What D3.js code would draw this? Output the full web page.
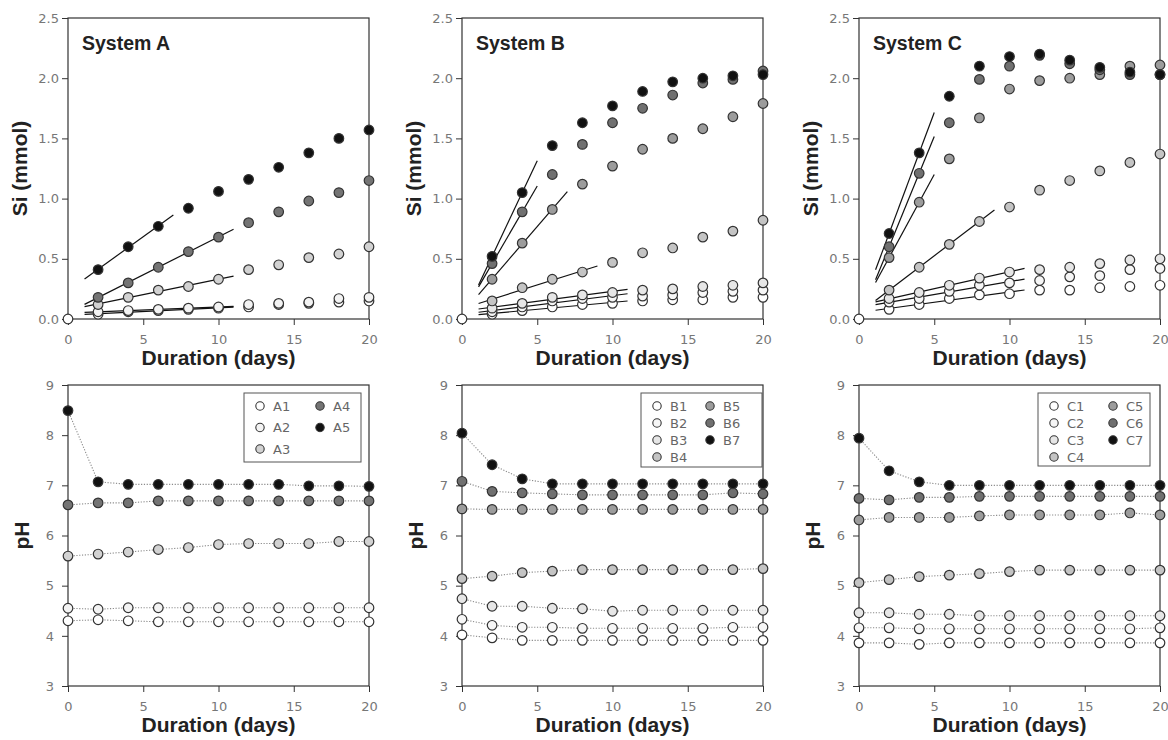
<!DOCTYPE html>
<html>
<head>
<meta charset="utf-8">
<script src="https://cdn.jsdelivr.net/npm/d3@7/dist/d3.min.js"></script>
<style>
  body { margin: 0; background: #fff; }
  svg { font-family: "Liberation Sans", Arial, sans-serif; }
  .axis path, .axis line { stroke: #333; }
  .axis text { fill: #777; font-family: "DejaVu Sans", sans-serif; font-size: 13px; }
  .title { font-weight: bold; font-size: 21px; fill: #222; }
  .legend text { fill: #666; font-family: "DejaVu Sans", sans-serif; font-size: 13px; }
</style>
</head>
<body>
<svg id="chart" width="1168" height="740"></svg>
<script>
// sampling days
const siDays = [2, 4, 6, 8, 10, 12, 14, 16, 18, 20];
const phDays = [0, 2, 4, 6, 8, 10, 12, 14, 16, 18, 20];
const origin = [0, 0];

// Si (mmol), System A
const siA1 = [0.04, 0.06, 0.07, 0.08, 0.09, 0.10, 0.12, 0.13, 0.14, 0.15];
const siA2 = [0.06, 0.07, 0.08, 0.09, 0.10, 0.12, 0.13, 0.14, 0.17, 0.18];
const siA3 = [0.12, 0.18, 0.24, 0.27, 0.33, 0.41, 0.45, 0.51, 0.54, 0.60];
const siA4 = [0.18, 0.30, 0.43, 0.56, 0.68, 0.80, 0.89, 0.98, 1.05, 1.15];
const siA5 = [0.41, 0.60, 0.77, 0.92, 1.06, 1.16, 1.26, 1.38, 1.50, 1.57];
// Si (mmol), System B
const siB1 = [0.04, 0.07, 0.10, 0.12, 0.13, 0.15, 0.16, 0.16, 0.18, 0.18];
const siB2 = [0.06, 0.10, 0.15, 0.17, 0.18, 0.19, 0.20, 0.22, 0.23, 0.24];
const siB3 = [0.09, 0.13, 0.18, 0.20, 0.22, 0.24, 0.25, 0.27, 0.28, 0.30];
const siB4 = [0.15, 0.26, 0.33, 0.39, 0.47, 0.55, 0.59, 0.68, 0.73, 0.82];
const siB5 = [0.33, 0.63, 0.91, 1.12, 1.27, 1.41, 1.50, 1.58, 1.68, 1.79];
const siB6 = [0.46, 0.89, 1.20, 1.45, 1.63, 1.75, 1.86, 1.96, 1.99, 2.06];
const siB7 = [0.52, 1.05, 1.44, 1.63, 1.77, 1.89, 1.97, 2.00, 2.02, 2.03];
// Si (mmol), System C
const siC1 = [0.08, 0.12, 0.17, 0.20, 0.21, 0.24, 0.24, 0.26, 0.27, 0.28];
const siC2 = [0.14, 0.17, 0.23, 0.28, 0.30, 0.32, 0.35, 0.36, 0.41, 0.42];
const siC3 = [0.17, 0.22, 0.28, 0.34, 0.39, 0.41, 0.43, 0.46, 0.49, 0.50];
const siC4 = [0.24, 0.43, 0.62, 0.81, 0.93, 1.07, 1.15, 1.23, 1.30, 1.37];
const siC5 = [0.51, 0.97, 1.33, 1.67, 1.91, 1.98, 2.00, 2.03, 2.10, 2.11];
const siC6 = [0.60, 1.21, 1.63, 1.99, 2.10, 2.19, 2.12, 2.07, 2.03, 2.03];
const siC7 = [0.71, 1.38, 1.85, 2.10, 2.18, 2.20, 2.15, 2.09, 2.05, 2.03];

// last day used in the initial linear fit of each series
const fitEndA = [10, 10, 10, 10, 6];
const fitEndB = [10, 10, 10, 8, 6, 4, 4];
const fitEndC = [10, 10, 10, 8, 4, 4, 4];

// pH, System A
const phA1 = [4.30, 4.32, 4.30, 4.28, 4.28, 4.28, 4.28, 4.28, 4.28, 4.28, 4.28];
const phA2 = [4.55, 4.53, 4.56, 4.56, 4.56, 4.56, 4.56, 4.56, 4.56, 4.56, 4.56];
const phA3 = [5.59, 5.63, 5.67, 5.72, 5.76, 5.82, 5.84, 5.84, 5.84, 5.88, 5.88];
const phA4 = [6.61, 6.65, 6.65, 6.69, 6.69, 6.69, 6.69, 6.69, 6.69, 6.69, 6.69];
const phA5 = [8.49, 7.07, 7.02, 7.02, 7.02, 7.02, 7.02, 7.02, 6.99, 6.99, 6.98];
// pH, System B
const phB1 = [4.02, 3.96, 3.91, 3.91, 3.91, 3.91, 3.91, 3.91, 3.91, 3.91, 3.91];
const phB2 = [4.33, 4.21, 4.17, 4.17, 4.15, 4.15, 4.15, 4.15, 4.15, 4.17, 4.17];
const phB3 = [4.74, 4.59, 4.59, 4.55, 4.54, 4.49, 4.51, 4.51, 4.51, 4.51, 4.51];
const phB4 = [5.14, 5.19, 5.26, 5.29, 5.32, 5.32, 5.32, 5.32, 5.32, 5.32, 5.34];
const phB5 = [6.53, 6.52, 6.52, 6.52, 6.52, 6.52, 6.52, 6.52, 6.52, 6.52, 6.52];
const phB6 = [7.08, 6.88, 6.85, 6.83, 6.81, 6.81, 6.81, 6.81, 6.81, 6.85, 6.83];
const phB7 = [8.04, 7.41, 7.13, 7.03, 7.03, 7.03, 7.03, 7.03, 7.03, 7.03, 7.03];
// pH, System C
const phC1 = [3.86, 3.86, 3.83, 3.86, 3.86, 3.86, 3.86, 3.86, 3.86, 3.86, 3.86];
const phC2 = [4.16, 4.16, 4.14, 4.14, 4.14, 4.14, 4.14, 4.14, 4.14, 4.14, 4.16];
const phC3 = [4.46, 4.46, 4.43, 4.43, 4.40, 4.40, 4.40, 4.40, 4.40, 4.40, 4.40];
const phC4 = [5.06, 5.12, 5.18, 5.21, 5.24, 5.28, 5.31, 5.31, 5.31, 5.31, 5.31];
const phC5 = [6.31, 6.36, 6.36, 6.36, 6.39, 6.41, 6.41, 6.41, 6.41, 6.45, 6.41];
const phC6 = [6.74, 6.71, 6.76, 6.76, 6.78, 6.78, 6.78, 6.78, 6.78, 6.78, 6.78];
const phC7 = [7.94, 7.29, 7.07, 7.00, 7.00, 7.00, 7.00, 7.00, 7.00, 7.00, 7.00];

const namesA = ["A1", "A2", "A3", "A4", "A5"];
const namesB = ["B1", "B2", "B3", "B4", "B5", "B6", "B7"];
const namesC = ["C1", "C2", "C3", "C4", "C5", "C6", "C7"];

// marker fills (styling)
const fillsA = ["#ffffff", "#f3f3f3", "#d2d2d2", "#747474", "#111111"];
const fillsB = ["#ffffff", "#f6f6f6", "#e6e6e6", "#c4c4c4", "#9c9c9c", "#707070", "#111111"];
const fillsC = ["#ffffff", "#f6f6f6", "#e6e6e6", "#c4c4c4", "#9c9c9c", "#707070", "#111111"];

const systems = [
    { label: "System A", names: namesA, fills: fillsA, si: [siA1, siA2, siA3, siA4, siA5], fitEnd: fitEndA,
      ph: [phA1, phA2, phA3, phA4, phA5], legend: { dx: 176, w: 117, h: 69, row: 21.5, col2: 60 } },
    { label: "System B", names: namesB, fills: fillsB, si: [siB1, siB2, siB3, siB4, siB5, siB6, siB7], fitEnd: fitEndB,
      ph: [phB1, phB2, phB3, phB4, phB5, phB6, phB7], legend: { dx: 179, w: 121, h: 74, row: 17, col2: 53 } },
    { label: "System C", names: namesC, fills: fillsC, si: [siC1, siC2, siC3, siC4, siC5, siC6, siC7], fitEnd: fitEndC,
      ph: [phC1, phC2, phC3, phC4, phC5, phC6, phC7], legend: { dx: 179, w: 112, h: 73, row: 17, col2: 59 } }
];

const svg = d3.select("#chart");
const W = 301, H = 301;
const lefts = [68, 462, 859];
const tops = [18, 385];
const R = 4.8;

const x = d3.scaleLinear().domain([0, 20]).range([0, W]);
const ySi = d3.scaleLinear().domain([0, 2.5]).range([H, 0]);
const yPh = d3.scaleLinear().domain([3, 9]).range([H, 0]);

function linearFit(xs, ys) {
    const mx = d3.mean(xs), my = d3.mean(ys);
    let sxy = 0, sxx = 0;
    xs.forEach((v, i) => { sxy += (v - mx) * (ys[i] - my); sxx += (v - mx) * (v - mx); });
    const slope = sxy / sxx;
    return { slope, intercept: my - slope * mx };
}

function drawFrame(g, y, yTicks, yFormat, yTitle, padY, titleX) {
    g.append("rect").attr("width", W).attr("height", H)
        .attr("fill", "none").attr("stroke", "#333").attr("stroke-width", 1.2);

    g.append("g").attr("class", "axis")
        .attr("transform", `translate(0,${H})`)
        .call(d3.axisBottom(x).tickValues([0, 5, 10, 15, 20]).tickSize(6).tickPadding(10))
        .call(a => a.select(".domain").remove());

    g.append("g").attr("class", "axis")
        .call(d3.axisLeft(y).tickValues(yTicks).tickFormat(yFormat).tickSize(6).tickPadding(padY))
        .call(a => a.select(".domain").remove());

    g.append("text").attr("class", "title")
        .attr("x", W / 2).attr("y", H + 46)
        .attr("text-anchor", "middle")
        .text("Duration (days)");

    g.append("text").attr("class", "title")
        .attr("transform", `translate(${titleX},${H / 2}) rotate(-90)`)
        .attr("text-anchor", "middle")
        .text(yTitle);
}

systems.forEach((sys, i) => {
    // ---- Si panel ----
    const g = svg.append("g").attr("transform", `translate(${lefts[i]},${tops[0]})`);
    drawFrame(g, ySi, [0, 0.5, 1, 1.5, 2, 2.5], d3.format(".1f"), "Si (mmol)", 3, -41);

    g.append("text")
        .attr("x", 14).attr("y", 32)
        .attr("font-weight", "bold").attr("font-size", 19.5).attr("fill", "#222")
        .text(sys.label);

    // fit lines
    sys.si.forEach((vals, k) => {
        const end = sys.fitEnd[k];
        const xs = siDays.filter(d => d <= end);
        const ys = vals.slice(0, xs.length);
        const f = linearFit(xs, ys);
        const x0 = 1.1, x1 = end + 1;
        g.append("line")
            .attr("x1", x(x0)).attr("y1", ySi(f.intercept + f.slope * x0))
            .attr("x2", x(x1)).attr("y2", ySi(f.intercept + f.slope * x1))
            .attr("stroke", "#111").attr("stroke-width", 1.2);
    });

    sys.si.forEach((vals, k) => {
        g.append("g").selectAll("circle")
            .data(vals.map((v, j) => [siDays[j], v]))
            .enter().append("circle")
            .attr("cx", d => x(d[0])).attr("cy", d => ySi(d[1]))
            .attr("r", R)
            .attr("fill", sys.fills[k]).attr("stroke", "#333").attr("stroke-width", 1.2);
    });

    g.append("circle")
        .attr("cx", x(origin[0])).attr("cy", ySi(origin[1])).attr("r", R)
        .attr("fill", "#fff").attr("stroke", "#333").attr("stroke-width", 1.2);

    // ---- pH panel ----
    const h = svg.append("g").attr("transform", `translate(${lefts[i]},${tops[1]})`);
    drawFrame(h, yPh, [3, 4, 5, 6, 7, 8, 9], d3.format("d"), "pH", 8, -39);

    const line = d3.line().x(d => x(d[0])).y(d => yPh(d[1]));
    sys.ph.forEach(vals => {
        h.append("path")
            .datum(vals.map((v, j) => [phDays[j], v]))
            .attr("d", line)
            .attr("fill", "none").attr("stroke", "#8a8a8a")
            .attr("stroke-width", 1.1).attr("stroke-dasharray", "1.2,1.6");
    });
    sys.ph.forEach((vals, k) => {
        h.append("g").selectAll("circle")
            .data(vals.map((v, j) => [phDays[j], v]))
            .enter().append("circle")
            .attr("cx", d => x(d[0])).attr("cy", d => yPh(d[1]))
            .attr("r", R)
            .attr("fill", sys.fills[k]).attr("stroke", "#333").attr("stroke-width", 1.2);
    });

    // legend
    const L = sys.legend;
    const lg = h.append("g").attr("class", "legend").attr("transform", `translate(${L.dx},8)`);
    lg.append("rect").attr("width", L.w).attr("height", L.h)
        .attr("fill", "#fff").attr("stroke", "#555").attr("stroke-width", 1);
    const perCol = Math.ceil(sys.names.length / 2);
    sys.names.forEach((name, k) => {
        const col = k < perCol ? 0 : 1;
        const row = col === 0 ? k : k - perCol;
        const cx = 16 + col * L.col2;
        const cy = 13 + row * L.row;
        lg.append("circle").attr("cx", cx).attr("cy", cy).attr("r", 4.2)
            .attr("fill", sys.fills[k]).attr("stroke", "#333").attr("stroke-width", 1.1);
        lg.append("text").attr("x", cx + 13).attr("y", cy + 4.5).text(name);
    });
});
</script>
</body>
</html>
